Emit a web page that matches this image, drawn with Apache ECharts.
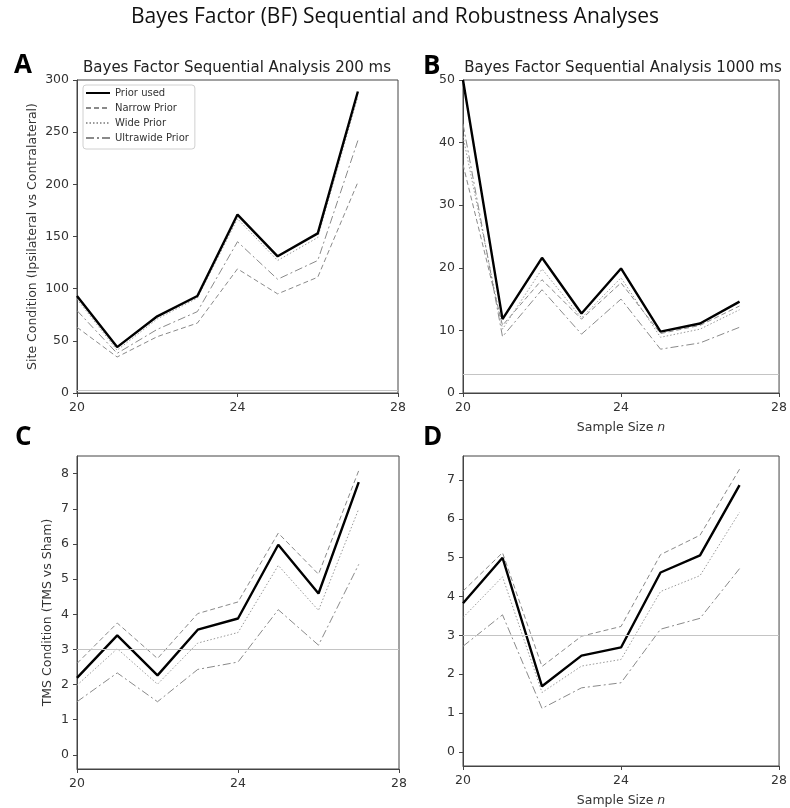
<!DOCTYPE html>
<html>
<head>
<meta charset="utf-8">
<title>Bayes Factor (BF) Sequential and Robustness Analyses</title>
<script src="https://cdn.jsdelivr.net/npm/echarts@6/dist/echarts.min.js"></script>
<style>
  html, body { margin: 0; padding: 0; background: #fff; }
  #chart { width: 790px; height: 808px; }
</style>
</head>
<body>
<div id="chart"></div>
<script>
// Sample sizes at which the Bayes factor was recomputed
const sampleSize = [20, 21, 22, 23, 24, 25, 26, 27];

// A: site condition, 200 ms
const priorA  = [93, 44, 73.5, 93, 171, 131, 153, 289];
const narrowA = [63, 34.5, 54, 67, 119, 95, 111, 202];
const wideA   = [90, 41, 71, 91, 167, 127, 149, 284];
const ultraA  = [79, 38, 61, 78, 145, 109, 127, 242];

// B: site condition, 1000 ms
const priorB  = [50, 11.8, 21.6, 12.7, 19.9, 9.8, 11.1, 14.6];
const narrowB = [36.5, 10.8, 18.1, 11.8, 17.6, 9.5, 10.8, 13.9];
const wideB   = [41, 10.2, 19.8, 12.0, 18.4, 8.9, 10.2, 13.3];
const ultraB  = [43, 9.0, 16.5, 9.4, 15.0, 7.0, 8.0, 10.5];

// C: TMS condition, 200 ms
const priorC  = [2.19, 3.40, 2.26, 3.56, 3.88, 5.98, 4.59, 7.76];
const narrowC = [2.60, 3.75, 2.74, 4.02, 4.35, 6.31, 5.14, 8.09];
const wideC   = [1.98, 3.02, 2.01, 3.18, 3.48, 5.39, 4.11, 7.00];
const ultraC  = [1.51, 2.33, 1.51, 2.43, 2.64, 4.13, 3.12, 5.42];

// D: TMS condition, 1000 ms
const priorD  = [3.83, 5.00, 1.69, 2.48, 2.69, 4.62, 5.06, 6.87];
const narrowD = [4.14, 5.13, 2.20, 2.98, 3.23, 5.08, 5.58, 7.28];
const wideD   = [3.46, 4.51, 1.53, 2.21, 2.38, 4.13, 4.54, 6.17];
const ultraD  = [2.72, 3.53, 1.12, 1.65, 1.78, 3.16, 3.44, 4.72];

// Evidence threshold (BF = 3)
const threshold = 3;

// Axis ticks
const xTicks = [20, 24, 28];
const yTicksA = [0, 50, 100, 150, 200, 250, 300];
const yTicksB = [0, 10, 20, 30, 40, 50];
const yTicksC = [0, 1, 2, 3, 4, 5, 6, 7, 8];
const yTicksD = [0, 1, 2, 3, 4, 5, 6, 7];

const seriesNames = ['Prior used', 'Narrow Prior', 'Wide Prior', 'Ultrawide Prior'];

const FONT = 'DejaVu Sans';
const AXIS_COLOR = '#444';
const TICK_FONT = 12.5;

const pair = (ys) => sampleSize.map((x, i) => [x, ys[i]]);

const lineStyles = [
  { color: '#000', width: 2.4, type: 'solid' },
  { color: '#8a8a8a', width: 1, type: [5, 3] },
  { color: '#9a9a9a', width: 1, type: [1.5, 2] },
  { color: '#8a8a8a', width: 1, type: [8, 3, 2, 3] }
];

const panels = [
  { grid: { left: 77, top: 80, width: 321, height: 313 }, ymin: 0, ymax: 300, yTicks: yTicksA,
    data: [priorA, narrowA, wideA, ultraA], yName: 'Site Condition (Ipsilateral vs Contralateral)', yGap: 38, xName: false },
  { grid: { left: 463, top: 80, width: 321, height: 313 }, ymin: 0, ymax: 50, yTicks: yTicksB,
    data: [priorB, narrowB, wideB, ultraB], yName: '', yGap: 0, xName: true },
  { grid: { left: 77, top: 456, width: 322, height: 313 }, ymin: -0.405, ymax: 8.505, yTicks: yTicksC,
    data: [priorC, narrowC, wideC, ultraC], yName: 'TMS Condition (TMS vs Sham)', yGap: 23, xName: false },
  { grid: { left: 463, top: 456, width: 321, height: 313 }, ymin: -0.363, ymax: 7.62, yTicks: yTicksD,
    data: [priorD, narrowD, wideD, ultraD], yName: '', yGap: 0, xName: true }
];

const grids = [], xAxes = [], yAxes = [], series = [];

panels.forEach((p, k) => {
  grids.push(Object.assign({ show: true, borderColor: AXIS_COLOR, borderWidth: 1, backgroundColor: '#fff' }, p.grid));
  xAxes.push({
    type: 'value', gridIndex: k, min: 20, max: 28,
    name: p.xName ? '{t|Sample Size }{i|n}' : '',
    nameLocation: 'middle', nameGap: 28,
    nameTextStyle: { rich: {
      t: { fontFamily: FONT, fontSize: TICK_FONT, color: '#333' },
      i: { fontFamily: FONT, fontSize: TICK_FONT, color: '#333', fontStyle: 'italic' }
    } },
    axisLine: { show: true, onZero: false, lineStyle: { color: AXIS_COLOR, width: 1 } },
    axisTick: { show: true, inside: false, length: 4, lineStyle: { color: AXIS_COLOR }, customValues: xTicks },
    axisLabel: { fontFamily: FONT, fontSize: TICK_FONT, color: '#333', margin: 8, customValues: xTicks },
    splitLine: { show: false }
  });
  yAxes.push({
    type: 'value', gridIndex: k, min: p.ymin, max: p.ymax,
    name: p.yName, nameLocation: 'middle', nameGap: p.yGap, nameRotate: 90,
    nameTextStyle: { fontFamily: FONT, fontSize: TICK_FONT, color: '#333' },
    axisLine: { show: true, onZero: false, lineStyle: { color: AXIS_COLOR, width: 1 } },
    axisTick: { show: true, inside: false, length: 4, lineStyle: { color: AXIS_COLOR }, customValues: p.yTicks },
    axisLabel: { fontFamily: FONT, fontSize: TICK_FONT, color: '#333', margin: 8, customValues: p.yTicks },
    splitLine: { show: false }
  });
  // BF = 3 reference line
  series.push({
    type: 'line', name: 'BF threshold', xAxisIndex: k, yAxisIndex: k, data: [],
    silent: true, z: 1,
    markLine: {
      silent: true, symbol: 'none', label: { show: false },
      lineStyle: { color: '#c4c4c4', width: 1, type: 'solid' },
      data: [{ yAxis: threshold }]
    }
  });
  // Robustness priors first, prior used on top
  [1, 2, 3, 0].forEach((j) => {
    series.push({
      type: 'line', name: seriesNames[j], xAxisIndex: k, yAxisIndex: k,
      data: pair(p.data[j]), symbol: 'none', showSymbol: false,
      z: j === 0 ? 4 : 3, animation: false,
      lineStyle: lineStyles[j], itemStyle: { color: lineStyles[j].color }
    });
  });
});

const chart = echarts.init(document.getElementById('chart'), null, { renderer: 'canvas' });
chart.setOption({
  backgroundColor: '#fff',
  animation: false,
  grid: grids,
  xAxis: xAxes,
  yAxis: yAxes,
  series: series,
  legend: {
    data: seriesNames,
    orient: 'vertical',
    left: 83, top: 85,
    itemWidth: 24, itemHeight: 10, itemGap: 5,
    padding: [3, 6, 6, 2],
    borderColor: '#d0d0d0', borderWidth: 1, borderRadius: 3,
    backgroundColor: 'rgba(255,255,255,0.85)',
    selectedMode: false,
    itemStyle: { color: 'transparent', borderWidth: 0, opacity: 0 },
    textStyle: { fontFamily: FONT, fontSize: 10, color: '#333' }
  },
  graphic: [
    { type: 'text', x: 395, y: 17, style: { text: 'Bayes Factor (BF) Sequential and Robustness Analyses',
      font: '21px "Open Sans"', fill: '#111', align: 'center', verticalAlign: 'middle',
      textAlign: 'center', textVerticalAlign: 'middle' } },
    { type: 'text', x: 237, y: 68, style: { text: 'Bayes Factor Sequential Analysis 200 ms',
      font: '15px "DejaVu Sans"', fill: '#222', align: 'center', verticalAlign: 'middle',
      textAlign: 'center', textVerticalAlign: 'middle' } },
    { type: 'text', x: 623, y: 68, style: { text: 'Bayes Factor Sequential Analysis 1000 ms',
      font: '15px "DejaVu Sans"', fill: '#222', align: 'center', verticalAlign: 'middle',
      textAlign: 'center', textVerticalAlign: 'middle' } },
    { type: 'text', x: 14, y: 66, style: { text: 'A', font: 'bold 26px "Open Sans"', fill: '#000',
      verticalAlign: 'middle', textVerticalAlign: 'middle' } },
    { type: 'text', x: 423, y: 67, style: { text: 'B', font: 'bold 26px "Open Sans"', fill: '#000',
      verticalAlign: 'middle', textVerticalAlign: 'middle' } },
    { type: 'text', x: 15, y: 438, style: { text: 'C', font: 'bold 26px "Open Sans"', fill: '#000',
      verticalAlign: 'middle', textVerticalAlign: 'middle' } },
    { type: 'text', x: 423, y: 438, style: { text: 'D', font: 'bold 26px "Open Sans"', fill: '#000',
      verticalAlign: 'middle', textVerticalAlign: 'middle' } }
  ]
});
</script>
</body>
</html>
